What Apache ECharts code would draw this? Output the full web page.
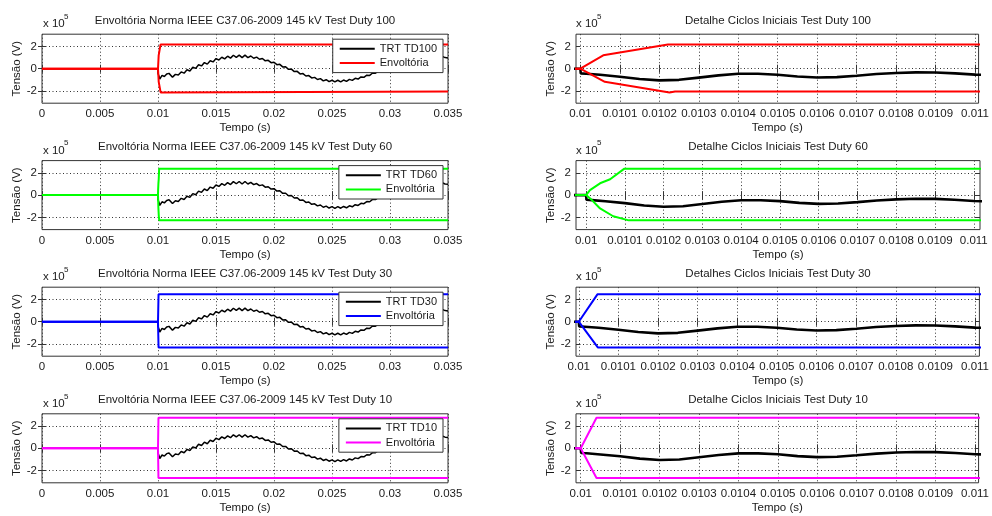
<!DOCTYPE html>
<html>
<head>
<meta charset="utf-8">
<script src="https://cdn.jsdelivr.net/npm/echarts@6/dist/echarts.min.js"></script>
<style>
  html, body { margin: 0; padding: 0; background: #ffffff; }
  #chart { width: 992px; height: 516px; }
</style>
</head>
<body>
<div id="chart"></div>
<script>
// ---- Tick positions and labels ----
const timeTicks = [0, 0.005, 0.01, 0.015, 0.02, 0.025, 0.03, 0.035];
const timeTickLabels = ['0', '0.005', '0.01', '0.015', '0.02', '0.025', '0.03', '0.035'];
const detailTicks = [0.01, 0.0101, 0.0102, 0.0103, 0.0104, 0.0105, 0.0106, 0.0107, 0.0108, 0.0109, 0.011];
const detailTickLabels = ['0.01', '0.0101', '0.0102', '0.0103', '0.0104', '0.0105', '0.0106', '0.0107', '0.0108', '0.0109', '0.011'];
const voltTicks = [-2, 0, 2];
const voltTickLabels = ['-2', '0', '2'];

// ---- Transient recovery voltage (time in s, voltage in units of 1e5 V) ----
const trtTime = [
  0, 0.01, 0.010001, 0.010015, 0.01005, 0.0101, 0.01015, 0.0102, 0.01025, 0.0103, 0.01035, 0.0104,
  0.01045, 0.0105, 0.01055, 0.0106, 0.01065, 0.0107, 0.01075, 0.0108, 0.01085, 0.0109, 0.01095, 0.011,
  0.01125, 0.0115, 0.01175, 0.012, 0.01225, 0.0125, 0.01275, 0.013, 0.01325, 0.0135, 0.01375, 0.014,
  0.01425, 0.0145, 0.01475, 0.015, 0.01525, 0.0155, 0.01575, 0.016, 0.01625, 0.0165, 0.01675, 0.017,
  0.01725, 0.0175, 0.01775, 0.018, 0.01825, 0.0185, 0.01875, 0.019, 0.01925, 0.0195, 0.01975, 0.02,
  0.02025, 0.0205, 0.02075, 0.021, 0.02125, 0.0215, 0.02175, 0.022, 0.02225, 0.0225, 0.02275, 0.023,
  0.02325, 0.0235, 0.02375, 0.024, 0.02425, 0.0245, 0.02475, 0.025, 0.02525, 0.0255, 0.02575, 0.026,
  0.02625, 0.0265, 0.02675, 0.027, 0.02725, 0.0275, 0.02775, 0.028, 0.02825, 0.0285, 0.02875, 0.029,
  0.02925, 0.0295, 0.02975, 0.03, 0.03025, 0.0305, 0.03075, 0.031, 0.03125, 0.0315, 0.03175, 0.032,
  0.03225, 0.0325, 0.03275, 0.033, 0.03325, 0.0335, 0.03375, 0.034, 0.03425, 0.0345, 0.03475, 0.035
];
const trtValue = [
  0, 0, -0.42, -0.45, -0.55, -0.72, -0.93, -1.05, -1.0, -0.8, -0.6, -0.46,
  -0.46, -0.54, -0.7, -0.79, -0.76, -0.63, -0.48, -0.38, -0.33, -0.34, -0.42, -0.53,
  -0.76, -0.51, -0.57, -0.29, -0.40, -0.10, -0.20, 0.13, 0.03, 0.36, 0.25, 0.55,
  0.41, 0.72, 0.61, 0.91, 0.78, 1.03, 0.88, 1.12, 0.95, 1.21, 1.02, 1.22,
  1.00, 1.22, 1.00, 1.14, 0.94, 1.04, 0.85, 0.92, 0.71, 0.75, 0.54, 0.58,
  0.36, 0.39, 0.16, 0.17, -0.06, -0.04, -0.26, -0.24, -0.47, -0.44, -0.66, -0.62,
  -0.83, -0.78, -0.97, -0.89, -1.09, -0.99, -1.16, -1.04, -1.19, -1.04, -1.18, -1.02,
  -1.14, -0.96, -1.05, -0.86, -0.93, -0.74, -0.77, -0.58, -0.60, -0.39, -0.40, -0.20,
  -0.20, 0.01, 0.01, 0.22, 0.22, 0.42, 0.42, 0.61, 0.60, 0.78, 0.76, 0.92,
  0.90, 1.04, 1.00, 1.11, 1.06, 1.14, 1.08, 1.15, 1.06, 1.11, 1.00, 0.97
];

// ---- IEEE C37.06-2009 envelopes, 145 kV (time in s, voltage in units of 1e5 V) ----
const env100UpperTime = [0, 0.01, 0.010058, 0.010222, 0.035];
const env100Upper     = [0, 0, 1.2, 2.18, 2.18];
const env100LowerTime = [0, 0.01, 0.010062, 0.010226, 0.01024, 0.035];
const env100Lower     = [0, 0, -1.18, -2.13, -2.05, -2.05];

const env60UpperTime = [0, 0.01, 0.01001, 0.010036, 0.010062, 0.010098, 0.035];
const env60Upper     = [0, 0, 0.45, 1.06, 1.42, 2.36, 2.36];
const env60LowerTime = [0, 0.01, 0.010015, 0.010036, 0.01007, 0.01011, 0.035];
const env60Lower     = [0, 0, -0.45, -1.2, -1.9, -2.27, -2.27];

const env30UpperTime = [0, 0.01, 0.010047, 0.035];
const env30Upper     = [0, 0, 2.46, 2.46];
const env30LowerTime = [0, 0.01, 0.010048, 0.035];
const env30Lower     = [0, 0, -2.31, -2.31];

const env10UpperTime = [0, 0.01, 0.01004, 0.035];
const env10Upper     = [0, 0, 2.74, 2.74];
const env10LowerTime = [0, 0.01, 0.01004, 0.035];
const env10Lower     = [0, 0, -2.67, -2.67];

const dutyLabels = ['100', '60', '30', '10'];
const detailTitles = [
  'Detalhe Ciclos Iniciais Test Duty 100',
  'Detalhe Ciclos Iniciais Test Duty 60',
  'Detalhes Ciclos Iniciais Test Duty 30',
  'Detalhe Ciclos Iniciais Test Duty 10'
];

// ---- Layout / styling ----
const FONT = '"Liberation Sans", Arial, Helvetica, sans-serif';
const TXT = '#1a1a1a';
const AXIS = '#333333';
const envColors = ['#ff0000', '#00ff00', '#0000ff', '#ff00ff'];
const rowTop = [34.2, 160.6, 287.2, 413.8];
const plotH = 69;
const cols = [{ left: 42, width: 406 }, { left: 576, width: 404 }];
const detailRanges = [
  [0.009989, 0.011009],
  [0.009974, 0.011016],
  [0.009993, 0.011011],
  [0.009988, 0.011009]
];

const rows = [
  { upT: env100UpperTime, up: env100Upper, loT: env100LowerTime, lo: env100Lower },
  { upT: env60UpperTime, up: env60Upper, loT: env60LowerTime, lo: env60Lower },
  { upT: env30UpperTime, up: env30Upper, loT: env30LowerTime, lo: env30Lower },
  { upT: env10UpperTime, up: env10Upper, loT: env10LowerTime, lo: env10Lower }
];

function pairs(ts, vs) { return ts.map((t, i) => [t, vs[i]]); }
function labelFor(ticks, labels) {
  return v => {
    const i = ticks.findIndex(t => Math.abs(t - v) < 1e-12);
    return i >= 0 ? labels[i] : String(v);
  };
}

const grids = [], xAxes = [], yAxes = [], series = [], legends = [], texts = [];
const labelStyle = { fontFamily: FONT, fontSize: 11.5, color: TXT };

rows.forEach((row, r) => {
  const trtName = 'TRT TD' + dutyLabels[r];
  const envName = 'Envoltória TD' + dutyLabels[r];
  cols.forEach((col, c) => {
    const g = grids.length;
    grids.push({
      left: col.left, top: rowTop[r], width: col.width, height: plotH,
      show: true, backgroundColor: '#ffffff', borderColor: AXIS, borderWidth: 1
    });
    const xr = c === 0 ? [0, 0.035] : detailRanges[r];
    const xt = c === 0 ? timeTicks : detailTicks;
    const xl = c === 0 ? timeTickLabels : detailTickLabels;
    const tick = { show: true, inside: true, length: 4, customValues: xt, lineStyle: { color: AXIS } };
    const xi = xAxes.length;
    xAxes.push({
      type: 'value', gridIndex: g, position: 'bottom', min: xr[0], max: xr[1],
      name: 'Tempo (s)', nameLocation: 'middle', nameGap: 19, nameTextStyle: labelStyle,
      axisLine: { show: false }, axisTick: tick,
      axisLabel: Object.assign({ customValues: xt, formatter: labelFor(xt, xl), margin: 5 }, labelStyle),
      splitLine: { show: true, lineStyle: { type: [1, 2.5], color: AXIS, width: 1 } }
    });
    xAxes.push({
      type: 'value', gridIndex: g, position: 'top', min: xr[0], max: xr[1],
      axisLine: { show: false }, axisTick: tick, axisLabel: { show: false }, splitLine: { show: false }
    });
    const ytick = { show: true, inside: true, length: 4, customValues: voltTicks, lineStyle: { color: AXIS } };
    const yi = yAxes.length;
    yAxes.push({
      type: 'value', gridIndex: g, position: 'left', min: -3.1, max: 3.1,
      name: 'Tensão (V)', nameLocation: 'middle', nameRotate: 90, nameGap: 19, nameTextStyle: labelStyle,
      axisLine: { show: false }, axisTick: ytick,
      axisLabel: Object.assign({ customValues: voltTicks, formatter: labelFor(voltTicks, voltTickLabels), margin: 5 }, labelStyle),
      splitLine: { show: true, lineStyle: { type: [1, 2.5], color: AXIS, width: 1 } }
    });
    yAxes.push({
      type: 'value', gridIndex: g, position: 'right', min: -3.1, max: 3.1,
      axisLine: { show: false }, axisTick: ytick, axisLabel: { show: false }, splitLine: { show: false }
    });

    const common = { type: 'line', xAxisIndex: xi, yAxisIndex: yi, showSymbol: false, symbol: 'none', animation: false, silent: true, clip: true };
    series.push(Object.assign({}, common, {
      name: trtName, data: pairs(trtTime, trtValue),
      lineStyle: { color: '#000000', width: c === 0 ? 1.5 : 2.6 }, itemStyle: { color: '#000000' }
    }));
    series.push(Object.assign({}, common, {
      name: envName, data: pairs(row.upT, row.up),
      lineStyle: { color: envColors[r], width: 2 }, itemStyle: { color: envColors[r] }
    }));
    series.push(Object.assign({}, common, {
      name: envName, data: pairs(row.loT, row.lo),
      lineStyle: { color: envColors[r], width: 2 }, itemStyle: { color: envColors[r] }
    }));

    // panel title and the x 10^5 multiplier
    texts.push({
      type: 'text', x: col.left + col.width / 2, y: rowTop[r] - 13.5, silent: true,
      style: { text: c === 0 ? 'Envoltória Norma IEEE C37.06-2009 145 kV Test Duty ' + dutyLabels[r] : detailTitles[r],
        fontFamily: FONT, fontSize: 11.5, fill: TXT, align: 'center', verticalAlign: 'middle' }
    });
    texts.push({
      type: 'text', x: col.left + (c === 0 ? 1 : 0), y: rowTop[r] - 10, silent: true,
      style: { text: 'x 10', fontFamily: FONT, fontSize: 11.5, fill: TXT, align: 'left', verticalAlign: 'middle' }
    });
    texts.push({
      type: 'text', x: col.left + (c === 0 ? 22 : 21), y: rowTop[r] - 17.5, silent: true,
      style: { text: '5', fontFamily: FONT, fontSize: 8, fill: TXT, align: 'left', verticalAlign: 'middle' }
    });

    if (c === 0) {
      // legend swatches: plain line segments (marker hidden)
      legends.push({
        orient: 'vertical', right: 992 - 443, top: rowTop[r] + 5,
        data: [trtName, envName],
        formatter: n => (n === envName ? 'Envoltória' : n),
        backgroundColor: '#ffffff', borderColor: AXIS, borderWidth: 1, borderRadius: 0,
        padding: [4, 6, 4, 6], itemGap: 3, itemWidth: 35, itemHeight: 14,
        lineStyle: { width: 2 },
        itemStyle: { opacity: 0, borderWidth: 0 },
        selectedMode: false,
        textStyle: { fontFamily: FONT, fontSize: 11, color: TXT }
      });
    }
  });
});

const chart = echarts.init(document.getElementById('chart'), null, { renderer: 'canvas' });
chart.setOption({
  animation: false,
  backgroundColor: '#ffffff',
  grid: grids,
  xAxis: xAxes,
  yAxis: yAxes,
  legend: legends,
  series: series,
  graphic: { elements: texts }
});
</script>
</body>
</html>
